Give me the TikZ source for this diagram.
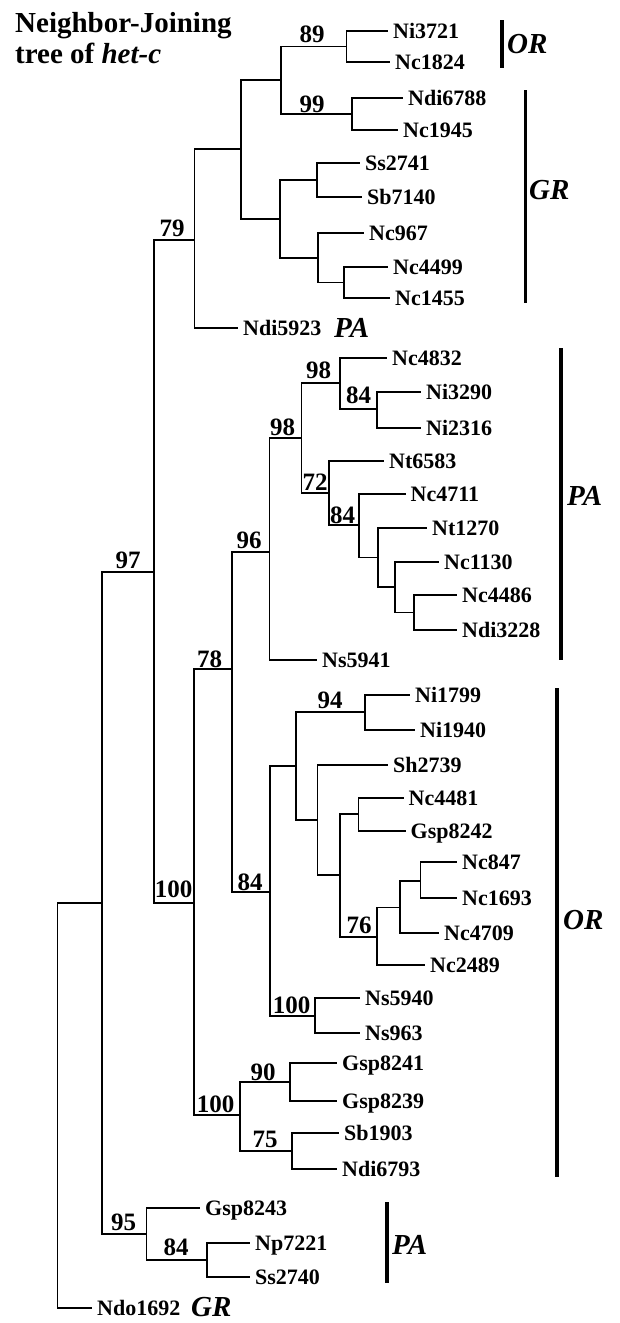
\documentclass[tikz,border=0pt]{standalone}
\usepackage{fontspec}
\setmainfont{Liberation Serif}
\begin{document}
\begin{tikzpicture}[x=1pt,y=-1pt,
  br/.style={line width=1.7pt, line join=miter},
  bar/.style={line width=3.6pt},
  leaf/.style={font=\fontsize{22}{22}\selectfont\bfseries, inner sep=0pt, anchor=base west},
  boot/.style={font=\fontsize{25}{25}\selectfont\bfseries, inner sep=0pt, anchor=base},
  clade/.style={font=\fontsize{29}{29}\selectfont\bfseries\itshape, inner sep=0pt, anchor=west},
  ttl/.style={font=\fontsize{29}{29}\selectfont\bfseries, inner sep=0pt, anchor=base west}]
\useasboundingbox (0,0) rectangle (619,1323);
% title
\node[ttl] (title1) at (15,32) {Neighbor-Joining};
\node[ttl] (title2) at (15,63) {tree of \textit{het-c}};
% internal nodes
\coordinate (root) at (57.5,1106);
\coordinate (nX) at (102,903);
\coordinate (n97) at (154,572);
\coordinate (n79) at (194.5,240);
\coordinate (nB) at (241,149);
\coordinate (nA) at (281,80);
\coordinate (n89) at (346.5,46.5);
\coordinate (n99) at (352,114);
\coordinate (nC) at (280,219);
\coordinate (nSs) at (317,180);
\coordinate (nNc967) at (318,258);
\coordinate (nNc4499) at (344,282.5);
\coordinate (n100) at (194,903);
\coordinate (n78) at (232,669);
\coordinate (n96) at (269.5,552);
\coordinate (n98b) at (301.5,438);
\coordinate (n98a) at (340,383);
\coordinate (n84a) at (377,409);
\coordinate (n72) at (329,493);
\coordinate (n84b) at (359,525);
\coordinate (nNt1270) at (378,557.5);
\coordinate (nNc1130) at (395,587);
\coordinate (nNc4486) at (414,612.5);
\coordinate (n84c) at (270,892);
\coordinate (nY) at (296,766);
\coordinate (n94) at (365,712);
\coordinate (nZ) at (317.5,820);
\coordinate (nW) at (340,875);
\coordinate (nNc4481) at (358.5,814);
\coordinate (n76) at (377,937);
\coordinate (nNc4709) at (400,907.5);
\coordinate (nNc847) at (420.5,881);
\coordinate (n100b) at (315,1016);
\coordinate (n100c) at (240,1115);
\coordinate (n90) at (290,1082);
\coordinate (n75) at (292,1151);
\coordinate (n95) at (146.5,1234);
\coordinate (n84d) at (207,1260);
% leaf tips
\coordinate (tNi3721) at (388,31);
\coordinate (tNc1824) at (390,62);
\coordinate (tNdi6788) at (403,98);
\coordinate (tNc1945) at (398,130);
\coordinate (tSs2741) at (360,163);
\coordinate (tSb7140) at (362,197);
\coordinate (tNc967) at (364,233);
\coordinate (tNc4499) at (388,267);
\coordinate (tNc1455) at (390,298);
\coordinate (tNdi5923) at (238,328);
\coordinate (tNc4832) at (387,358);
\coordinate (tNi3290) at (421,392);
\coordinate (tNi2316) at (421,428);
\coordinate (tNt6583) at (384,461);
\coordinate (tNc4711) at (405.5,494);
\coordinate (tNt1270) at (427,528);
\coordinate (tNc1130) at (439,562);
\coordinate (tNc4486) at (457,595);
\coordinate (tNdi3228) at (457,630);
\coordinate (tNs5941) at (317,660);
\coordinate (tNi1799) at (410,695);
\coordinate (tNi1940) at (415,730);
\coordinate (tSh2739) at (388,765);
\coordinate (tNc4481) at (403.5,798);
\coordinate (tGsp8242) at (405.5,831);
\coordinate (tNc847) at (457,862);
\coordinate (tNc1693) at (457,898);
\coordinate (tNc4709) at (439,933);
\coordinate (tNc2489) at (425,965);
\coordinate (tNs5940) at (360,998);
\coordinate (tNs963) at (360,1033);
\coordinate (tGsp8241) at (337,1063);
\coordinate (tGsp8239) at (337,1101);
\coordinate (tSb1903) at (339,1133);
\coordinate (tNdi6793) at (337,1169);
\coordinate (tGsp8243) at (200,1208);
\coordinate (tNp7221) at (250,1243);
\coordinate (tSs2740) at (250,1277);
\coordinate (tNdo1692) at (92,1308);
% leaf labels
\foreach \l in {Ni3721,Nc1824,Ndi6788,Nc1945,Ss2741,Sb7140,Nc967,Nc4499,Nc1455,Ndi5923,
  Nc4832,Ni3290,Ni2316,Nt6583,Nc4711,Nt1270,Nc1130,Nc4486,Ndi3228,Ns5941,
  Ni1799,Ni1940,Sh2739,Nc4481,Gsp8242,Nc847,Nc1693,Nc4709,Nc2489,Ns5940,Ns963,
  Gsp8241,Gsp8239,Sb1903,Ndi6793,Gsp8243,Np7221,Ss2740,Ndo1692}
  {\node[leaf] (\l) at ([xshift=5pt,yshift=-7.5pt]t\l) {\l};}
% branches
\draw[br] (root) |- (nX);
\draw[br] (root) |- (tNdo1692);
\draw[br] (nX) |- (n97);
\draw[br] (nX) |- (n95);
\draw[br] (n97) |- (n79);
\draw[br] (n97) |- (n100);
\draw[br] (n79) |- (nB);
\draw[br] (n79) |- (tNdi5923);
\draw[br] (nB) |- (nA);
\draw[br] (nB) |- (nC);
\draw[br] (nA) |- (n89);
\draw[br] (nA) |- (n99);
\draw[br] (n89) |- (tNi3721);
\draw[br] (n89) |- (tNc1824);
\draw[br] (n99) |- (tNdi6788);
\draw[br] (n99) |- (tNc1945);
\draw[br] (nC) |- (nSs);
\draw[br] (nC) |- (nNc967);
\draw[br] (nSs) |- (tSs2741);
\draw[br] (nSs) |- (tSb7140);
\draw[br] (nNc967) |- (tNc967);
\draw[br] (nNc967) |- (nNc4499);
\draw[br] (nNc4499) |- (tNc4499);
\draw[br] (nNc4499) |- (tNc1455);
\draw[br] (n100) |- (n78);
\draw[br] (n100) |- (n100c);
\draw[br] (n78) |- (n96);
\draw[br] (n78) |- (n84c);
\draw[br] (n96) |- (n98b);
\draw[br] (n96) |- (tNs5941);
\draw[br] (n98b) |- (n98a);
\draw[br] (n98b) |- (n72);
\draw[br] (n98a) |- (tNc4832);
\draw[br] (n98a) |- (n84a);
\draw[br] (n84a) |- (tNi3290);
\draw[br] (n84a) |- (tNi2316);
\draw[br] (n72) |- (tNt6583);
\draw[br] (n72) |- (n84b);
\draw[br] (n84b) |- (tNc4711);
\draw[br] (n84b) |- (nNt1270);
\draw[br] (nNt1270) |- (tNt1270);
\draw[br] (nNt1270) |- (nNc1130);
\draw[br] (nNc1130) |- (tNc1130);
\draw[br] (nNc1130) |- (nNc4486);
\draw[br] (nNc4486) |- (tNc4486);
\draw[br] (nNc4486) |- (tNdi3228);
\draw[br] (n84c) |- (nY);
\draw[br] (n84c) |- (n100b);
\draw[br] (nY) |- (n94);
\draw[br] (nY) |- (nZ);
\draw[br] (n94) |- (tNi1799);
\draw[br] (n94) |- (tNi1940);
\draw[br] (nZ) |- (tSh2739);
\draw[br] (nZ) |- (nW);
\draw[br] (nW) |- (nNc4481);
\draw[br] (nW) |- (n76);
\draw[br] (nNc4481) |- (tNc4481);
\draw[br] (nNc4481) |- (tGsp8242);
\draw[br] (n76) |- (nNc4709);
\draw[br] (n76) |- (tNc2489);
\draw[br] (nNc4709) |- (nNc847);
\draw[br] (nNc4709) |- (tNc4709);
\draw[br] (nNc847) |- (tNc847);
\draw[br] (nNc847) |- (tNc1693);
\draw[br] (n100b) |- (tNs5940);
\draw[br] (n100b) |- (tNs963);
\draw[br] (n100c) |- (n90);
\draw[br] (n100c) |- (n75);
\draw[br] (n90) |- (tGsp8241);
\draw[br] (n90) |- (tGsp8239);
\draw[br] (n75) |- (tSb1903);
\draw[br] (n75) |- (tNdi6793);
\draw[br] (n95) |- (tGsp8243);
\draw[br] (n95) |- (n84d);
\draw[br] (n84d) |- (tNp7221);
\draw[br] (n84d) |- (tSs2740);
% bootstrap values
\node[boot] (b89) at (312,42) {89};
\node[boot] (b99) at (312,112) {99};
\node[boot] (b79) at (172,236) {79};
\node[boot] (b98a) at (318.5,378) {98};
\node[boot] (b84a) at (358.5,403) {84};
\node[boot] (b98b) at (282.5,435) {98};
\node[boot] (b72) at (315,490) {72};
\node[boot] (b84b) at (342.5,523) {84};
\node[boot] (b96) at (249,548) {96};
\node[boot] (b97) at (128,568) {97};
\node[boot] (b78) at (209.5,667) {78};
\node[boot] (b94) at (330,708) {94};
\node[boot] (b84c) at (250,890) {84};
\node[boot] (b100) at (173.5,897) {100};
\node[boot] (b76) at (359,933) {76};
\node[boot] (b100b) at (291.5,1013) {100};
\node[boot] (b90) at (263,1080) {90};
\node[boot] (b100c) at (215.5,1112) {100};
\node[boot] (b75) at (265,1147) {75};
\node[boot] (b95) at (123.5,1230) {95};
\node[boot] (b84d) at (176,1255) {84};
% clade bars and labels
\coordinate (barORa1) at (502,20);   \coordinate (barORa2) at (502,68);
\coordinate (barGR1) at (525.6,90);  \coordinate (barGR2) at (525.6,303);
\coordinate (barPAa1) at (561,348);  \coordinate (barPAa2) at (561,660);
\coordinate (barORb1) at (557,688);  \coordinate (barORb2) at (557,1177);
\coordinate (barPAb1) at (387,1202); \coordinate (barPAb2) at (387,1283);
\draw[bar] (barORa1) -- (barORa2);
\draw[bar] (barGR1) -- (barGR2);
\draw[bar] (barPAa1) -- (barPAa2);
\draw[bar] (barORb1) -- (barORb2);
\draw[bar] (barPAb1) -- (barPAb2);
\node[clade] (cORa) at (507,44) {OR};
\node[clade] (cGR) at (529,190) {GR};
\node[clade] (cPAa) at (567,496) {PA};
\node[clade] (cORb) at (563,920) {OR};
\node[clade] (cPAb) at (392,1245) {PA};
\node[clade] (cPAc) at (334,328) {PA};
\node[clade] (cGRb) at (191,1307) {GR};
\end{tikzpicture}
\end{document}
